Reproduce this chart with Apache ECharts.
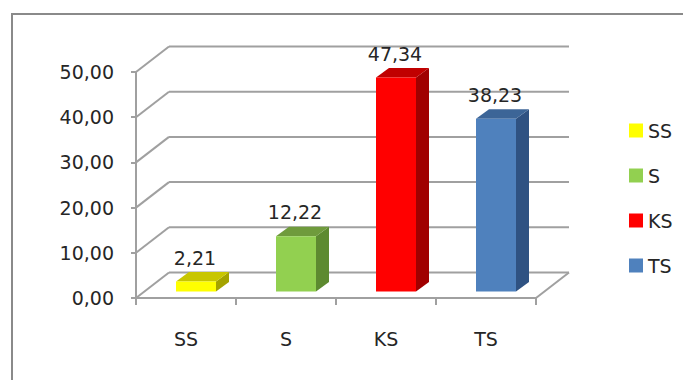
<!DOCTYPE html>
<html>
<head>
<meta charset="utf-8">
<script src="https://cdn.jsdelivr.net/npm/echarts@6/dist/echarts.min.js"></script>
<style>
html,body{margin:0;padding:0;background:#fff;}
#chart{width:683px;height:380px;}
</style>
</head>
<body>
<div id="chart"></div>
<script>
const categories = ['SS', 'S', 'KS', 'TS'];
const values = [2.21, 12.22, 47.34, 38.23];
const yTicks = [0, 10, 20, 30, 40, 50];
const frontColors = ['#FFFF00', '#92D050', '#FF0000', '#4F81BD'];
const topColors = ['#C8C600', '#6F9B3C', '#C00000', '#3C6597'];
const sideColors = ['#A4A300', '#5D8A30', '#A00000', '#2F5282'];

const FONT = '"DejaVu Sans", sans-serif';
const fmt = v => v.toFixed(2).replace('.', ',');
const GRID_COLOR = '#a0a0a0';

function wallRender(params, api) {
  const v = api.value(1);
  const p = api.coord([0, v]);
  const w = api.size([1, 0])[0];
  const dx = 0.33 * w, dy = -0.255 * w;
  const xl = p[0] - w / 2;
  const xr = xl + categories.length * w;
  const ls = { stroke: GRID_COLOR, lineWidth: 2 };
  const children = [
    { type: 'line', shape: { x1: xl, y1: p[1], x2: xl + dx, y2: p[1] + dy }, style: ls },
    { type: 'line', shape: { x1: xl + dx, y1: p[1] + dy, x2: xr + dx, y2: p[1] + dy }, style: ls }
  ];
  if (v === 0) {
    children.push({ type: 'line', shape: { x1: xr, y1: p[1], x2: xr + dx, y2: p[1] + dy }, style: ls });
  }
  return { type: 'group', children: children };
}

function barRender(idx) {
  return function (params, api) {
    const i = api.value(0);
    const v = api.value(1);
    const w = api.size([1, 0])[0];
    const base = api.coord([i, 0]);
    const topP = api.coord([i, v]);
    const cx = base[0] + 0.1 * w;
    const yb = base[1] - 6.5;
    const yt = yb - (base[1] - topP[1]);
    const bw = 0.4 * w;
    const x0 = cx - bw / 2, x1 = cx + bw / 2;
    const dx = 0.13 * w, dy = -0.095 * w;
    return {
      type: 'group',
      children: [
        { type: 'polygon', shape: { points: [[x1, yt], [x1 + dx, yt + dy], [x1 + dx, yb + dy], [x1, yb]] },
          style: { fill: sideColors[idx] } },
        { type: 'polygon', shape: { points: [[x0, yt], [x0 + dx, yt + dy], [x1 + dx, yt + dy], [x1, yt]] },
          style: { fill: topColors[idx] } },
        { type: 'rect', shape: { x: x0, y: yt, width: bw, height: yb - yt },
          style: { fill: frontColors[idx] } },
        { type: 'text', x: cx - 1, y: yt - 24,
          style: { text: fmt(v), align: 'center', verticalAlign: 'middle',
                   font: '19px ' + FONT, fill: '#262626' } }
      ]
    };
  };
}

const series = [{
  type: 'custom',
  name: '_walls',
  silent: true,
  z: 1,
  renderItem: wallRender,
  data: yTicks.map(v => [0, v]),
  encode: { x: 0, y: 1 }
}];
categories.forEach((c, i) => {
  series.push({
    type: 'custom',
    name: c,
    z: 5,
    itemStyle: { color: frontColors[i] },
    renderItem: barRender(i),
    data: [[i, values[i]]],
    encode: { x: 0, y: 1 }
  });
});

const chart = echarts.init(document.getElementById('chart'), null, { renderer: 'svg' });
chart.setOption({
  animation: false,
  backgroundColor: '#ffffff',
  graphic: [{
    type: 'rect',
    shape: { x: 12, y: 14, width: 700, height: 400 },
    style: { fill: 'none', stroke: '#8a8a8a', lineWidth: 2 },
    silent: true,
    z: 0
  }],
  grid: { left: 136, top: 72, width: 400, height: 226 },
  xAxis: {
    type: 'category',
    data: categories,
    boundaryGap: true,
    axisLine: { show: true, lineStyle: { color: GRID_COLOR, width: 2 } },
    axisTick: { show: true, length: 7, lineStyle: { color: GRID_COLOR, width: 2 } },
    axisLabel: { margin: 31, fontSize: 19, fontFamily: FONT, color: '#262626' },
    splitLine: { show: false }
  },
  yAxis: {
    type: 'value',
    min: 0,
    max: 50,
    interval: 10,
    axisLine: { show: true, lineStyle: { color: GRID_COLOR, width: 2 } },
    axisTick: { show: true, length: 5, lineStyle: { color: GRID_COLOR, width: 2 } },
    axisLabel: { margin: 22, fontSize: 19, fontFamily: FONT, color: '#262626',
                 formatter: v => fmt(v), padding: [8, 0, 0, 0] },
    splitLine: { show: false }
  },
  legend: {
    data: categories,
    orient: 'vertical',
    left: 624,
    top: 116,
    icon: 'rect',
    itemWidth: 14,
    itemHeight: 14,
    itemGap: 26,
    textStyle: { fontSize: 19, fontFamily: FONT, color: '#262626' },
    selectedMode: false
  },
  series: series
});
</script>
</body>
</html>
